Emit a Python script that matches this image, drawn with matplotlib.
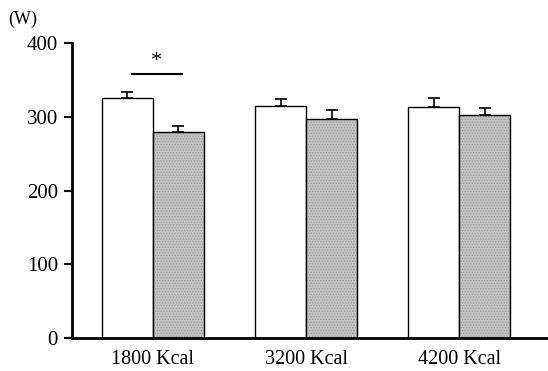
import matplotlib.pyplot as plt
import numpy as np

groups = ["1800 Kcal", "3200 Kcal", "4200 Kcal"]
white_vals = [325, 314, 313]
white_err = [8, 10, 12]
gray_vals = [279, 297, 303]
gray_err = [9, 12, 9]
y_ticks = [0, 100, 200, 300, 400]

plt.rcParams["font.family"] = ["Liberation Serif", "DejaVu Serif"]
plt.rcParams["hatch.color"] = "#969696"
plt.rcParams["hatch.linewidth"] = 0.6

fig = plt.figure(figsize=(5.48, 3.71), dpi=100)
ax = fig.add_axes([0.131, 0.089, 0.869, 0.795])

x = np.arange(len(groups))
width = 0.333
ax.bar(x - width / 2, white_vals, width, color="white", edgecolor="black", linewidth=1.0,
       yerr=[[0] * 3, white_err], capsize=4, error_kw={"elinewidth": 1.2, "capthick": 1.2})
ax.bar(x + width / 2, gray_vals, width, color="#c4c4c4", linewidth=0.0, hatch="......",
       yerr=[[0] * 3, gray_err], capsize=4, error_kw={"elinewidth": 1.2, "capthick": 1.2})
# outline drawn separately so the hatch can stay light
ax.bar(x + width / 2, gray_vals, width, color="none", edgecolor="black", linewidth=1.0)

# significance marker
ax.plot([-0.14, 0.19], [358, 358], color="black", lw=1.5)
ax.text(0.025, 362, "*", ha="center", va="bottom", fontsize=16)

ax.set_xlim(-0.53, 2.58)
ax.set_ylim(0, 400)
ax.set_yticks(y_ticks)
ax.set_yticklabels([str(v) for v in y_ticks], fontsize=15)
ax.set_xticks(x)
ax.set_xticklabels(groups, fontsize=14.5)
ax.tick_params(axis="x", length=0, pad=9)
ax.tick_params(axis="y", length=6, width=1.5, pad=4)
for side in ("top", "right"):
    ax.spines[side].set_visible(False)
ax.spines["left"].set_linewidth(2)
ax.spines["bottom"].set_linewidth(2)

fig.text(0.015, 0.935, "(W)", fontsize=13)

fig.savefig("out.png", dpi=100)
